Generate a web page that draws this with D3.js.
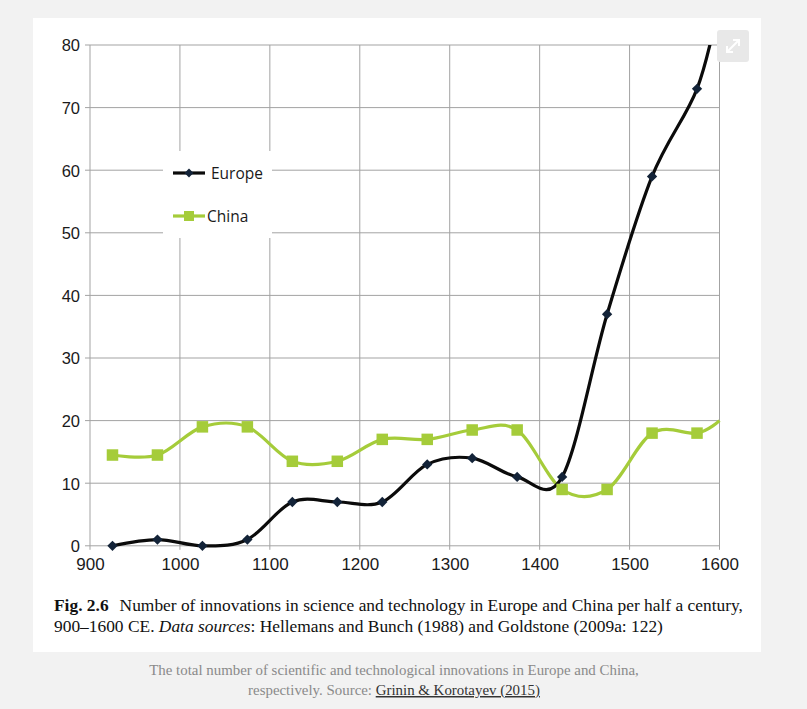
<!DOCTYPE html>
<html>
<head>
<meta charset="utf-8">
<script src="https://cdn.jsdelivr.net/npm/d3@7"></script>
<style>
  html, body { margin: 0; padding: 0; background: #f2f2f2; }
  svg { display: block; }
</style>
</head>
<body>
<svg id="chart" width="807" height="709"></svg>
<script>
// ---- data ----
const years = [925, 975, 1025, 1075, 1125, 1175, 1225, 1275, 1325, 1375, 1425, 1475, 1525, 1575, 1600];
const europe = [0, 1, 0, 1, 7, 7, 7, 13, 14, 11, 11, 37, 59, 73, 87];
const china = [14.5, 14.5, 19, 19, 13.5, 13.5, 17, 17, 18.5, 18.5, 9, 9, 18, 18, 20];
const markerCount = 14; // last point (1600) has no marker
const xTicks = [900, 1000, 1100, 1200, 1300, 1400, 1500, 1600];
const yTicks = [0, 10, 20, 30, 40, 50, 60, 70, 80];
const seriesNames = ["Europe", "China"];

const svg = d3.select("#chart");

// panel
svg.append("rect").attr("x", 33).attr("y", 18).attr("width", 728).attr("height", 634).attr("fill", "#ffffff");

const x = d3.scaleLinear().domain([900, 1600]).range([90, 719.5]);
const y = d3.scaleLinear().domain([0, 80]).range([545.8, 45]);

const grid = svg.append("g");
grid.selectAll("line.h").data(yTicks).join("line")
  .attr("x1", 85).attr("x2", x(1600))
  .attr("y1", d => y(d)).attr("y2", d => y(d))
  .attr("stroke", "#a3a3a3").attr("stroke-width", 1);
grid.selectAll("line.v").data(xTicks).join("line")
  .attr("x1", d => x(d)).attr("x2", d => x(d))
  .attr("y1", y(80)).attr("y2", y(0) + 4)
  .attr("stroke", "#a3a3a3").attr("stroke-width", 1);

const yAxis = d3.axisLeft(y).tickValues(yTicks).tickSize(0).tickPadding(0).tickFormat(d3.format("d"));
const gy = svg.append("g").attr("transform", "translate(80,0)").call(yAxis);
gy.select(".domain").remove();
gy.selectAll("text").attr("font-family", "'Liberation Sans', Arial, sans-serif").attr("font-size", 16.5).attr("fill", "#1a1a1a").attr("dy", "0.36em");

const xAxis = d3.axisBottom(x).tickValues(xTicks).tickSize(0).tickPadding(0).tickFormat(d3.format("d"));
const gx = svg.append("g").attr("transform", "translate(0,554)").call(xAxis);
gx.select(".domain").remove();
gx.selectAll("text").attr("font-family", "'Liberation Sans', Arial, sans-serif").attr("font-size", 17).attr("fill", "#1a1a1a").attr("y", 16).attr("dy", 0);

svg.append("clipPath").attr("id", "plotclip").append("rect")
  .attr("x", 85).attr("y", y(80)).attr("width", 660).attr("height", 520);

const line = d3.line().x(d => x(d[0])).y(d => y(d[1])).curve(d3.curveCardinal.tension(0));
const chinaPts = years.map((yr, i) => [yr, china[i]]);
const europePts = years.map((yr, i) => [yr, europe[i]]);

const plot = svg.append("g").attr("clip-path", "url(#plotclip)");
const chinaColor = "#a5cc3a";
const euroLine = "#0b0b0b";
const euroMarker = "#132338";

plot.append("path").attr("d", line(chinaPts)).attr("fill", "none").attr("stroke", chinaColor).attr("stroke-width", 3.2);
plot.append("path").attr("d", line(europePts)).attr("fill", "none").attr("stroke", euroLine).attr("stroke-width", 3.2);

const sq = 11.5;
plot.selectAll("rect.cm").data(chinaPts.slice(0, markerCount)).join("rect")
  .attr("x", d => x(d[0]) - sq / 2).attr("y", d => y(d[1]) - sq / 2)
  .attr("width", sq).attr("height", sq).attr("fill", chinaColor);

const diamond = d3.symbol().type(d3.symbolDiamond2).size(68);
plot.selectAll("path.em").data(europePts.slice(0, markerCount)).join("path")
  .attr("d", diamond).attr("transform", d => `translate(${x(d[0])},${y(d[1])})`)
  .attr("fill", euroMarker);

// legend
const lg = svg.append("g");
lg.append("rect").attr("x", 163).attr("y", 151).attr("width", 109).attr("height", 87).attr("fill", "#ffffff");
lg.append("line").attr("x1", 173).attr("x2", 205).attr("y1", 173).attr("y2", 173).attr("stroke", euroLine).attr("stroke-width", 3.2);
lg.append("path").attr("d", d3.symbol().type(d3.symbolDiamond2).size(50)).attr("transform", "translate(189,173)").attr("fill", euroMarker);
lg.append("text").attr("x", 211).attr("y", 179).text(seriesNames[0])
  .attr("font-family", "'Open Sans', sans-serif").attr("font-size", 15.5).attr("fill", "#1a1a1a");
lg.append("line").attr("x1", 173).attr("x2", 205).attr("y1", 216).attr("y2", 216).attr("stroke", chinaColor).attr("stroke-width", 3.2);
lg.append("rect").attr("x", 189 - 5).attr("y", 216 - 5).attr("width", 10).attr("height", 10).attr("fill", chinaColor);
lg.append("text").attr("x", 207).attr("y", 222).text(seriesNames[1])
  .attr("font-family", "'Open Sans', sans-serif").attr("font-size", 15.5).attr("fill", "#1a1a1a");

// expand icon
const ic = svg.append("g");
ic.append("rect").attr("x", 717).attr("y", 30).attr("width", 32).attr("height", 32).attr("rx", 3).attr("fill", "#e8e8e8");
ic.append("path").attr("d", "M727 52 L739 40 M733 40 L739 40 L739 46 M727 46 L727 52 L733 52")
  .attr("fill", "none").attr("stroke", "#ffffff").attr("stroke-width", 2);

// figure caption inside panel
const cap = svg.append("text").attr("x", 54).attr("y", 611)
  .attr("font-family", "'Liberation Serif', 'Times New Roman', serif").attr("font-size", 17.4).attr("fill", "#111");
cap.append("tspan").attr("font-weight", "bold").text("Fig. 2.6");
cap.append("tspan").attr("dx", 11).text("Number of innovations in science and technology in Europe and China per half a century,");
const cap2 = svg.append("text").attr("x", 54).attr("y", 632)
  .attr("font-family", "'Liberation Serif', 'Times New Roman', serif").attr("font-size", 17.4).attr("fill", "#111");
cap2.append("tspan").text("900–1600 CE. ");
cap2.append("tspan").attr("font-style", "italic").text("Data sources");
cap2.append("tspan").text(": Hellemans and Bunch (1988) and Goldstone (2009a: 122)");

// page caption below
const pc = svg.append("g").attr("font-family", "'Liberation Serif', serif").attr("font-size", 14.9).attr("fill", "#8a8a8a").attr("text-anchor", "middle");
pc.append("text").attr("x", 394).attr("y", 675).text("The total number of scientific and technological innovations in Europe and China,");
const l2 = pc.append("text").attr("x", 394).attr("y", 695);
l2.append("tspan").text("respectively. Source: ");
l2.append("tspan").attr("fill", "#333").attr("text-decoration", "underline").text("Grinin & Korotayev (2015)");
</script>
</body>
</html>
